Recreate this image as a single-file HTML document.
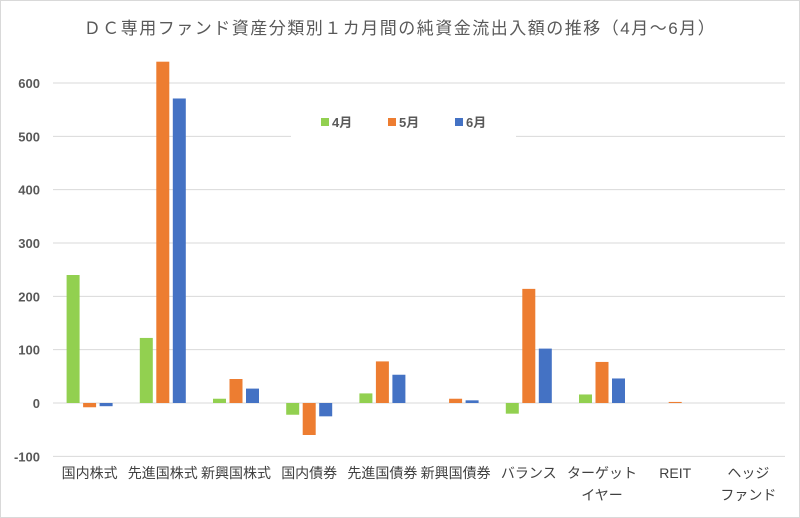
<!DOCTYPE html>
<html><head><meta charset="utf-8"><style>
body{margin:0;background:#fff}
svg{display:block;font-family:"Liberation Sans","Noto Sans CJK JP",sans-serif}
</style></head><body>
<svg id="c" width="800" height="518" viewBox="0 0 800 518">
<rect x="0.5" y="0.5" width="799" height="517" fill="#fff" stroke="#d9d9d9"/>
<text x="400" y="34" text-anchor="middle" font-size="17" fill="#595959" letter-spacing="1.5">ＤＣ専用ファンド資産分類別１カ月間の純資金流出入額の推移（4月～6月）</text>
<g id="grid"></g><g id="bars"></g><g id="labels"></g>
<rect x="291" y="108" width="225" height="32" fill="#fff"/>
<g font-weight="bold">
<rect x="321" y="118" width="8" height="8" fill="#92d050"/>
<text x="332" y="127" font-size="13" fill="#595959">4月</text>
<rect x="388" y="118" width="8" height="8" fill="#ed7d31"/>
<text x="399" y="127" font-size="13" fill="#595959">5月</text>
<rect x="455" y="118" width="8" height="8" fill="#4472c4"/>
<text x="466" y="127" font-size="13" fill="#595959">6月</text>
</g>
</svg>
<script>
const categories=[["国内株式"],["先進国株式"],["新興国株式"],["国内債券"],["先進国債券"],["新興国債券"],["バランス"],["ターゲット","イヤー"],["REIT"],["ヘッジ","ファンド"]];
const apr=[240,122,8,-22,18,0,-20,16,0,0];
const may=[-8,640,45,-60,78,8,214,77,2,0];
const jun=[-6,571,27,-25,53,5,102,46,0,0];
const ticks=[-100,0,100,200,300,400,500,600];
const NS="http://www.w3.org/2000/svg";
const x0=53,x1=785,cw=(x1-x0)/categories.length;
function y(v){return 403-v*0.5333;}
function xc(i){return x0+cw*(i+0.5);}
function mk(t,a,p){const e=document.createElementNS(NS,t);for(const k in a)e.setAttribute(k,a[k]);p.appendChild(e);return e;}
const g=document.getElementById('grid'),b=document.getElementById('bars'),l=document.getElementById('labels');
ticks.forEach(t=>{
 const ln=mk('line',{x1:x0,x2:x1,y1:y(t),y2:y(t),stroke:'#d9d9d9','stroke-width':1},g);
 
 
 const tx=mk('text',{x:40,y:y(t)+5,'text-anchor':'end','font-size':13,'font-weight':'bold',fill:'#595959'},l);
 tx.textContent=t;
 
 
});
const series=[[apr,'#92d050',-16.5,'apr'],[may,'#ed7d31',0,'may'],[jun,'#4472c4',16.5,'jun']];
categories.forEach((c,i)=>{
 series.forEach(s=>{
  const v=s[0][i];if(v===0)return;
  const r=mk('rect',{x:xc(i)+s[2]-6.5,y:Math.min(y(v),y(0)),width:13,height:Math.max(Math.abs(y(v)-y(0)),1),fill:s[1]},b);
  
  
 });
 c.forEach((line,j)=>{
  const t=mk('text',{x:xc(i),y:478+j*22,'text-anchor':'middle','font-size':14,fill:'#404040'},l);
  t.textContent=line;
  
  
 });
});
</script>
</body></html>
